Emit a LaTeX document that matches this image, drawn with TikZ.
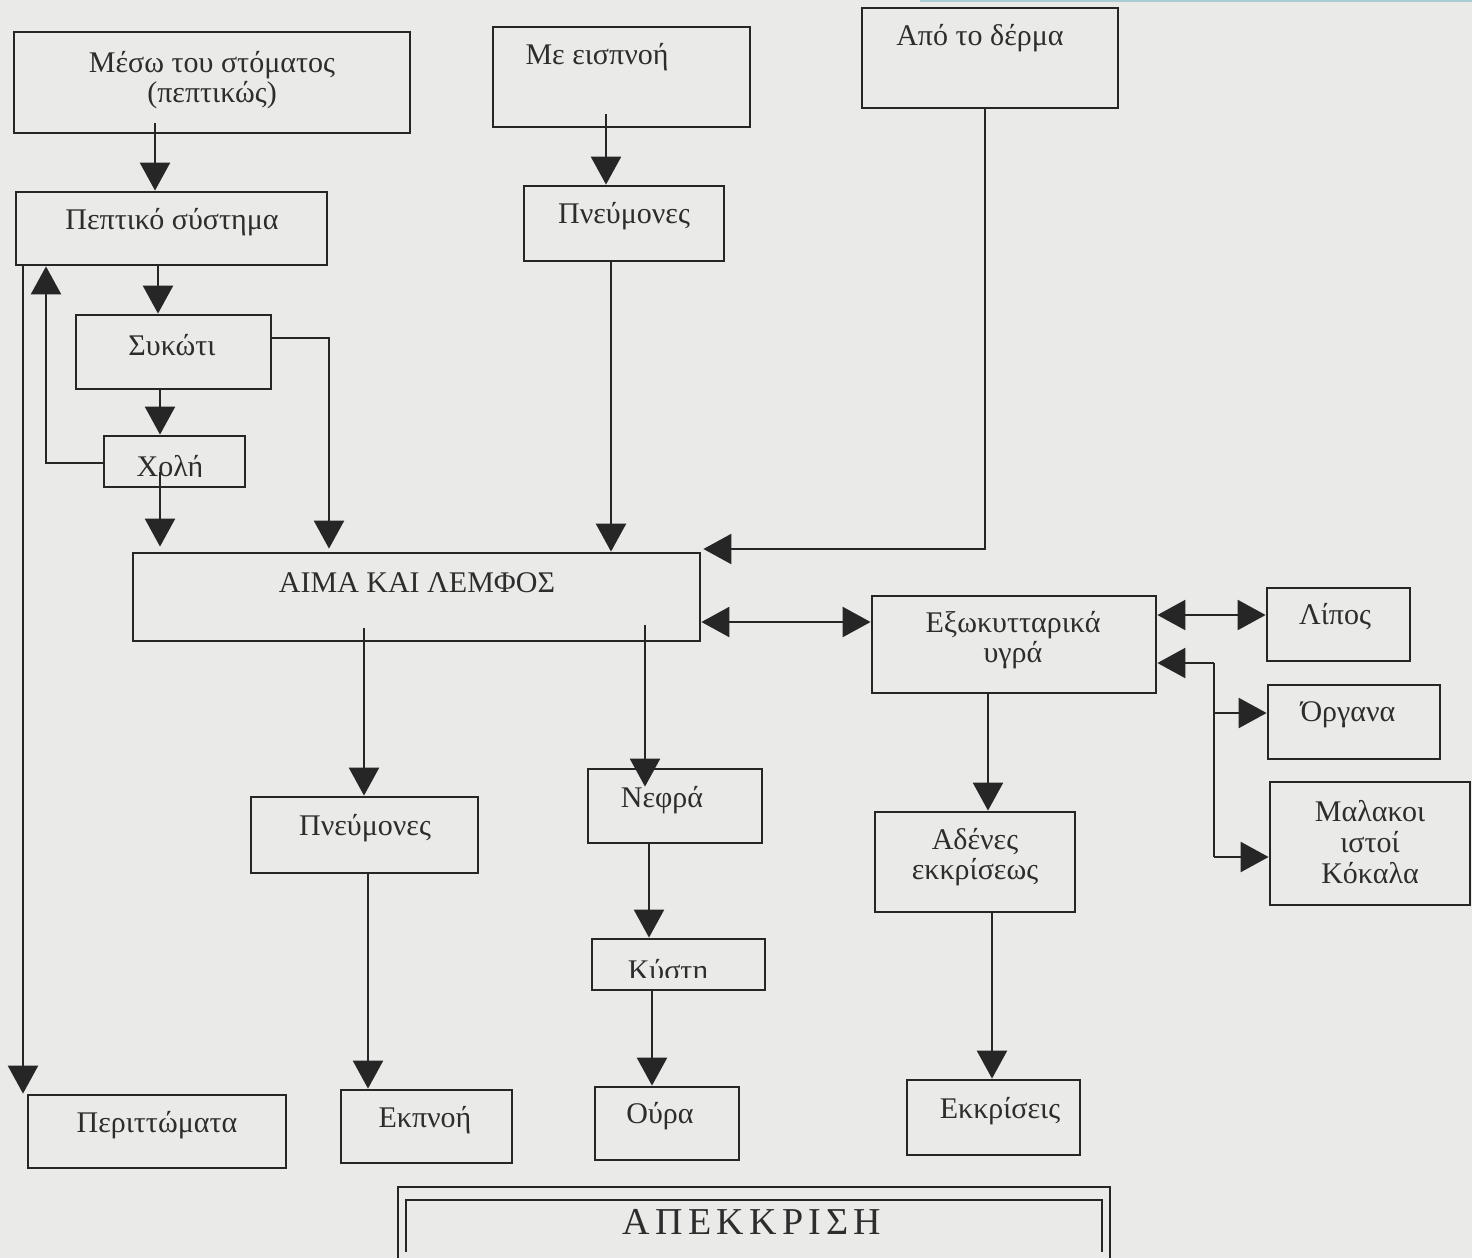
\documentclass[tikz,border=0pt]{standalone}
\usepackage{fontspec}
\setmainfont{Liberation Serif}
\usetikzlibrary{arrows.meta,calc}
\definecolor{paper}{RGB}{234,234,232}
\definecolor{ink}{RGB}{38,38,38}
\definecolor{txt}{RGB}{45,45,45}
\definecolor{scanline}{RGB}{170,205,212}
\tikzset{
  boxst/.style={draw=ink, line width=1.4pt, inner sep=0pt},
  lbl/.style={text=txt, font=\fontsize{15}{15.3}\selectfont, align=center, inner sep=0pt},
  conn/.style={draw=ink, line width=1.2pt},
  arr/.style={conn, -{Triangle[length=14pt,width=15pt]}},
  darr/.style={conn, {Triangle[length=14pt,width=15pt]}-{Triangle[length=14pt,width=15pt]}},
}
\newcommand{\mkbox}[5]{%
  \pgfmathsetmacro{\mkW}{(#4-#2)*0.5}\pgfmathsetmacro{\mkH}{(#5-#3)*0.5}%
  \pgfmathsetmacro{\mkX}{(#2+#4)/2}\pgfmathsetmacro{\mkY}{(#3+#5)/2}%
  \node[boxst, minimum width=\mkW pt, minimum height=\mkH pt] (#1) at (\mkX,\mkY) {};}
\begin{document}
\begin{tikzpicture}[x=0.5pt,y=-0.5pt]
\fill[paper] (0,0) rectangle (1472,1258);
\useasboundingbox (0,0) rectangle (1472,1258);
\draw[scanline, line width=0.6pt] (920,1) -- (1472,1);

% boxes
\mkbox{mouth}{14}{32}{410}{133}
\mkbox{inh}{493}{27}{750}{127}
\mkbox{skin}{862}{8}{1118}{108}
\mkbox{pept}{16}{192}{327}{265}
\mkbox{lung1}{524}{186}{724}{261}
\mkbox{liver}{76}{315}{271}{389}
\mkbox{bile}{104}{436}{245}{487}
\mkbox{blood}{133}{553}{700}{641}
\mkbox{ecf}{872}{596}{1156}{693}
\mkbox{fat}{1267}{588}{1410}{661}
\mkbox{organs}{1268}{685}{1440}{759}
\mkbox{soft}{1270}{782}{1470}{905}
\mkbox{lung2}{251}{797}{478}{873}
\mkbox{kid}{588}{769}{762}{843}
\mkbox{blad}{592}{939}{765}{990}
\mkbox{gland}{875}{812}{1075}{912}
\mkbox{waste}{28}{1095}{286}{1168}
\mkbox{exh}{341}{1090}{512}{1163}
\mkbox{urine}{595}{1087}{739}{1160}
\mkbox{secr}{907}{1080}{1080}{1155}

% texts
\node[lbl] (tmouth) at (212,80) {Μέσω του στόματος\\(πεπτικώς)};
\node[lbl] (tinh) at (597,57) {Με εισπνοή};
\node[lbl] (tskin) at (980,38) {Από το δέρμα};
\node[lbl] (tpept) at (172,222) {Πεπτικό σύστημα};
\node[lbl] (tlung1) at (624,216) {Πνεύμονες};
\node[lbl] (tliver) at (172,345) {Συκώτι};
\begin{scope}
  \clip (104,436) rectangle (245,476);
  \node[lbl] (tbile) at (170,469) {Χολή};
\end{scope}
\node[lbl] (tblood) at (417,583) {ΑΙΜΑ ΚΑΙ ΛΕΜΦΟΣ};
\node[lbl] (tecf) at (1013,640) {Εξωκυτταρικά\\υγρά};
\node[lbl] (tfat) at (1335,617) {Λίπος};
\node[lbl] (torgans) at (1348,715) {Όργανα};
\node[lbl] (tsoft) at (1370,842) {Μαλακοι\\ιστοί\\Κόκαλα};
\node[lbl] (tlung2) at (365,828) {Πνεύμονες};
\node[lbl] (tkid) at (662,800) {Νεφρά};
\begin{scope}
  \clip (592,939) rectangle (765,977);
  \node[lbl] (tblad) at (668,973) {Κύστη};
\end{scope}
\node[lbl] (tgland) at (975,857) {Αδένες\\εκκρίσεως};
\node[lbl] (twaste) at (157,1125) {Περιττώματα};
\node[lbl] (texh) at (425,1120) {Εκπνοή};
\node[lbl] (turine) at (660,1116) {Ούρα};
\node[lbl] (tsecr) at (1000,1111) {Εκκρίσεις};

% title frame
\draw[conn, line width=0.9pt] (398,1258) |- (1110,1187) -- (1110,1258);
\draw[conn, line width=1.3pt] (406,1252) |- (1102,1200) -- (1102,1252);
\node[text=txt, inner sep=0pt, font=\fontsize{19}{20}\selectfont\addfontfeatures{LetterSpace=14}] (title) at (752,1222) {ΑΠΕΚΚΡΙΣΗ};

% connectors
\coordinate (bt) at (1214,663);
\coordinate (bm) at (1214,713);
\coordinate (bb) at (1214,857);
\draw[arr] ($(mouth.south -| 155,0)+(0,-11)$) -- (pept.north -| 155,0);
\draw[arr] ($(inh.south -| 606,0)+(0,-14)$) -- (lung1.north -| 606,0);
\draw[arr] (pept.south -| 158,0) -- (liver.north -| 158,0);
\draw[arr] (liver.south -| 160,0) -- (bile.north -| 160,0);
\draw[arr] ($(bile.south -| 160,0)+(0,-16)$) -- ($(blood.north -| 160,0)+(0,-5)$);
\draw[arr] (bile.west |- 0,463) -| (pept.south -| 46,0);
\draw[arr] (pept.south -| 23,0) -- (waste.north -| 23,0);
\draw[arr] (liver.east |- 0,338) -| ($(blood.north -| 329,0)+(0,-3)$);
\draw[arr] (lung1.south -| 611,0) -- (blood.north -| 611,0);
\draw[arr] (skin.south -| 985,0) |- ($(blood.east |- 0,549)+(2,0)$);
\draw[darr] (blood.east |- 0,622) -- (ecf.west |- 0,622);
\draw[arr] ($(blood.south -| 364,0)+(0,-14)$) -- (lung2.north -| 364,0);
\draw[arr] ($(blood.south -| 645,0)+(0,-17)$) -- ($(kid.north -| 645,0)+(0,19)$);
\draw[arr] (kid.south -| 649,0) -- (blad.north -| 649,0);
\draw[arr] (blad.south -| 652,0) -- (urine.north -| 652,0);
\draw[arr] (lung2.south -| 368,0) -- (exh.north -| 368,0);
\draw[arr] (ecf.south -| 988,0) -- (gland.north -| 988,0);
\draw[arr] (gland.south -| 992,0) -- (secr.north -| 992,0);
\draw[darr] (ecf.east |- 0,615) -- (fat.west |- 0,615);
\draw[conn] (bt) -- (bb);
\draw[arr] (bt) -- (ecf.east |- bt);
\draw[arr] (bm) -- (organs.west |- bm);
\draw[arr] (bb) -- (soft.west |- bb);
\end{tikzpicture}
\end{document}
